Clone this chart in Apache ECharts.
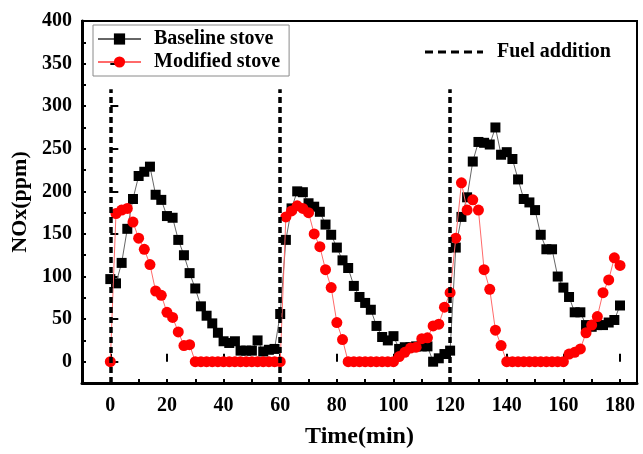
<!DOCTYPE html>
<html>
<head>
<meta charset="utf-8">
<script src="https://cdn.jsdelivr.net/npm/echarts@6/dist/echarts.min.js"></script>
<style>
  html, body { margin: 0; padding: 0; background: #fff; }
  #chart { width: 643px; height: 454px; }
</style>
</head>
<body>
<div id="chart"></div>
<script>
// Sampling times (min), one reading every 2 minutes
const times = [
  0, 2, 4, 6, 8, 10, 12, 14, 16, 18,
  20, 22, 24, 26, 28, 30, 32, 34, 36, 38,
  40, 42, 44, 46, 48, 50, 52, 54, 56, 58,
  60, 62, 64, 66, 68, 70, 72, 74, 76, 78,
  80, 82, 84, 86, 88, 90, 92, 94, 96, 98,
  100, 102, 104, 106, 108, 110, 112, 114, 116, 118,
  120, 122, 124, 126, 128, 130, 132, 134, 136, 138,
  140, 142, 144, 146, 148, 150, 152, 154, 156, 158,
  160, 162, 164, 166, 168, 170, 172, 174, 176, 178,
  180
];

// NOx concentration (ppm)
const baselineStove = [
  97, 92, 116, 156, 191, 218, 223, 229, 196, 190,
  171, 169, 143, 125, 104, 86, 65, 54, 45, 34,
  24, 22, 24, 13, 13, 13, 25, 12, 14, 15,
  56, 143, 180, 200, 199, 186, 182, 176, 161, 149,
  134, 119, 110, 89, 76, 69, 61, 42, 29, 25,
  30, 15, 17, 17, 18, 18, 18, 0, 4, 9,
  13, 134, 170, 193, 235, 258, 257, 255, 275, 243,
  246, 238, 214, 191, 187, 178, 149, 132, 132, 100,
  87, 76, 58, 58, 43, 41, 43, 43, 46, 49,
  66
];

const modifiedStove = [
  0, 174, 178, 180, 164, 145, 132, 114, 83, 78,
  58, 52, 35, 19, 20, 0, 0, 0, 0, 0,
  0, 0, 0, 0, 0, 0, 0, 0, 0, 0,
  0, 170, 177, 183, 180, 175, 150, 135, 108, 87,
  46, 26, 0, 0, 0, 0, 0, 0, 0, 0,
  0, 6, 11, 16, 17, 27, 28, 42, 44, 64,
  81, 145, 210, 178, 190, 178, 108, 85, 37, 19,
  0, 0, 0, 0, 0, 0, 0, 0, 0, 0,
  0, 9, 11, 15, 34, 43, 53, 81, 96, 122,
  113
];

// Fuel was added at these times; marker lines run from the axis floor up to fuelMarkTop
const fuelTimes = [0, 60, 120];
const fuelMarkTop = 320;

// Tick positions
const xMajorTicks = [0, 20, 40, 60, 80, 100, 120, 140, 160, 180];
const yMajorTicks = [0, 50, 100, 150, 200, 250, 300, 350, 400];

const pair = (xs, ys) => xs.map((t, i) => [t, ys[i]]);

const serif = "'Times New Roman', 'Liberation Serif', serif";
const tickFont = { fontFamily: serif, fontWeight: 'bold', fontSize: 20, color: '#000' };

// Dashed legend sample for the fuel-addition marker lines
const dashIcon = 'path://M0,0H8V3H0Z M13,0H21V3H13Z M26,0H34V3H26Z M39,0H47V3H39Z M52,0H58V3H52Z';

const chart = echarts.init(document.getElementById('chart'), null, { renderer: 'canvas' });

chart.setOption({
  animation: false,
  backgroundColor: '#fff',
  grid: {
    left: 82, top: 21, width: 555, height: 370,
    show: true, borderColor: '#000', borderWidth: 2, backgroundColor: 'transparent'
  },
  legend: [
    {
      orient: 'vertical',
      left: 93, top: 25,
      padding: [4, 9, 4, 4],
      itemWidth: 43, itemHeight: 14, itemGap: 3,
      borderColor: '#8a8a8a', borderWidth: 1,
      textStyle: { fontFamily: serif, fontWeight: 'bold', fontSize: 20, color: '#000', padding: [0, 0, 0, 8] },
      data: ['Baseline stove', 'Modified stove']
    },
    {
      left: 425, top: 42,
      padding: 0,
      itemWidth: 58, itemHeight: 3,
      textStyle: { fontFamily: serif, fontWeight: 'bold', fontSize: 20, color: '#000', padding: [0, 0, 0, 9] },
      data: [{ name: 'Fuel addition', icon: dashIcon }]
    }
  ],
  xAxis: [
    {
      type: 'value', min: -10, max: 186, interval: 10,
      name: 'Time(min)', nameLocation: 'middle', nameGap: 42,
      nameTextStyle: { fontFamily: serif, fontWeight: 'bold', fontSize: 24, color: '#000' },
      axisLine: { show: true, onZero: false, lineStyle: { color: '#000', width: 3 } },
      axisTick: { show: true, inside: true, length: 4, lineStyle: { color: '#000', width: 2 } },
      axisLabel: Object.assign({ margin: 13, formatter: v => (v >= 0 && v % 20 === 0) ? String(v) : '' }, tickFont),
      splitLine: { show: false }
    },
    {
      type: 'value', min: -10, max: 186, position: 'bottom',
      axisLine: { show: false },
      axisTick: { show: true, inside: true, length: 8, customValues: xMajorTicks, lineStyle: { color: '#000', width: 2 } },
      axisLabel: { show: false },
      splitLine: { show: false }
    }
  ],
  yAxis: [
    {
      type: 'value', min: -25, max: 400, interval: 25,
      name: 'NOx(ppm)', nameLocation: 'middle', nameGap: 47, nameRotate: 90,
      nameTextStyle: { fontFamily: serif, fontWeight: 'bold', fontSize: 22, color: '#000' },
      axisLine: { show: true, onZero: false, lineStyle: { color: '#000', width: 3 } },
      axisTick: { show: true, inside: true, length: 4, lineStyle: { color: '#000', width: 2 } },
      axisLabel: Object.assign({ margin: 10, formatter: v => (v >= 0 && v % 50 === 0) ? String(v) : '' }, tickFont),
      splitLine: { show: false }
    },
    {
      type: 'value', min: -25, max: 400, position: 'left',
      axisLine: { show: false },
      axisTick: { show: true, inside: true, length: 8, customValues: yMajorTicks, lineStyle: { color: '#000', width: 2 } },
      axisLabel: { show: false },
      splitLine: { show: false }
    }
  ],
  series: [
    {
      name: 'Baseline stove', type: 'line',
      xAxisIndex: 0, yAxisIndex: 0,
      data: pair(times, baselineStove),
      symbol: 'rect', symbolSize: 10,
      itemStyle: { color: '#000' },
      lineStyle: { color: '#666', width: 1 },
      z: 3
    },
    {
      name: 'Modified stove', type: 'line',
      xAxisIndex: 0, yAxisIndex: 0,
      data: pair(times, modifiedStove),
      symbol: 'circle', symbolSize: 11,
      itemStyle: { color: '#ff0000' },
      lineStyle: { color: '#ff6a6a', width: 1 },
      z: 4
    },
    {
      name: 'Fuel addition', type: 'line',
      xAxisIndex: 0, yAxisIndex: 0,
      data: [], symbol: 'none',
      lineStyle: { type: [6, 4], width: 3.5, color: '#000' },
      itemStyle: { color: '#000' },
      z: 5,
      markLine: {
        silent: true, symbol: ['none', 'none'], animation: false,
        label: { show: false },
        lineStyle: { type: [6, 4], width: 3.5, color: '#000' },
        emphasis: { disabled: true },
        data: fuelTimes.map(t => [{ coord: [t, -25] }, { coord: [t, fuelMarkTop] }])
      }
    }
  ]
});
</script>
</body>
</html>
